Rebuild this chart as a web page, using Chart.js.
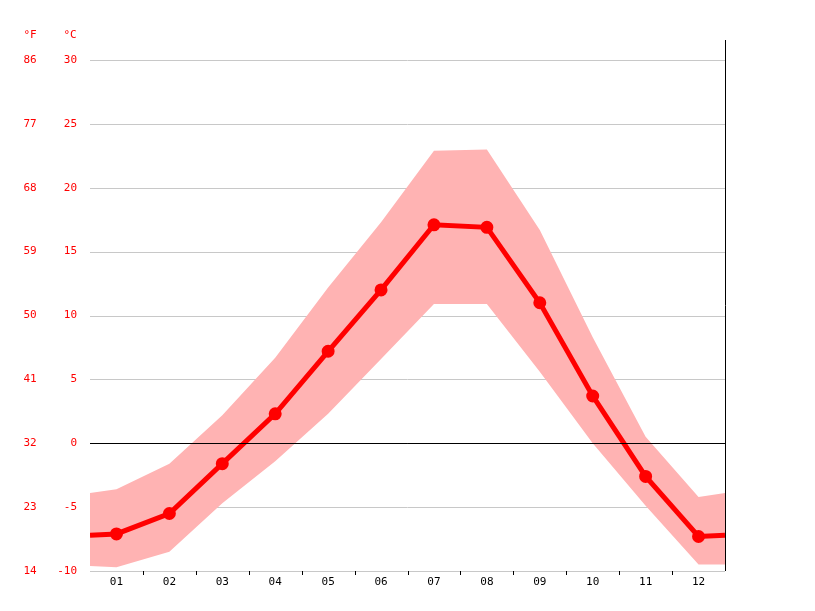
<!DOCTYPE html><html><head><script src="https://cdn.jsdelivr.net/npm/chart.js@4"></script>
<style>body{margin:0;background:#fff}canvas{display:block}</style></head><body>
<div style="width:815px;height:611px"><canvas id="c"></canvas></div>
<script>
const xPos=[0.5,1,2,3,4,5,6,7,8,9,10,11,12,12.5];
const monthLabels=['01','02','03','04','05','06','07','08','09','10','11','12'];
const meanTemp=[-7.2,-7.1,-5.5,-1.6,2.3,7.2,12.0,17.1,16.9,11.0,3.7,-2.6,-7.3,-7.2];
const maxTemp=[-3.9,-3.6,-1.6,2.2,6.7,12.2,17.3,22.9,23.0,16.7,8.3,0.5,-4.2,-3.9];
const minTemp=[-9.6,-9.7,-8.5,-4.7,-1.4,2.3,6.6,10.9,10.9,5.6,0,-4.9,-9.5,-9.5];
const cTicks=[-10,-5,0,5,10,15,20,25,30];
const fTicks=[14,23,32,41,50,59,68,77,86];
const pts=a=>a.map((v,i)=>({x:xPos[i],y:v}));
const deco={id:'deco',beforeDatasetsDraw(ch){const {ctx,chartArea:a,scales:{x,y}}=ch;ctx.save();
 ctx.lineWidth=1;cTicks.forEach(t=>{const py=Math.round(y.getPixelForValue(t))+0.5;ctx.strokeStyle=t===0?'#000':'#c8c8c8';ctx.beginPath();ctx.moveTo(a.left,py);ctx.lineTo(a.right,py);ctx.stroke();});ctx.restore();},
 afterDatasetsDraw(ch){const {ctx,chartArea:a,scales:{x,y}}=ch;ctx.save();
 const zy=Math.round(y.getPixelForValue(0))+0.5;ctx.strokeStyle='#000';ctx.lineWidth=1;ctx.beginPath();ctx.moveTo(a.left,zy);ctx.lineTo(a.right,zy);ctx.stroke();
 ctx.beginPath();ctx.moveTo(a.right+0.5,40);ctx.lineTo(a.right+0.5,a.bottom);ctx.stroke();
 ctx.font='11px "DejaVu Sans Mono"';ctx.fillStyle='#f00';ctx.textBaseline='middle';
 cTicks.forEach((t,i)=>{const py=y.getPixelForValue(t);ctx.textAlign='right';ctx.fillText(String(t),77,py);ctx.textAlign='center';ctx.fillText(String(fTicks[i]),30,py);});
 ctx.textAlign='center';ctx.fillText('°F',30,35);ctx.fillText('°C',70,35);
 ctx.fillStyle='#000';monthLabels.forEach((m,i)=>ctx.fillText(m,x.getPixelForValue(i+1),582));
 for(let k=1;k<12;k++){const px=Math.round(x.getPixelForValue(k+0.5))+0.5;ctx.beginPath();ctx.moveTo(px,a.bottom);ctx.lineTo(px,a.bottom+4);ctx.stroke();}
 ctx.restore();}};
new Chart(document.getElementById('c'),{type:'line',data:{datasets:[
 {data:pts(maxTemp),borderWidth:0,pointRadius:0,fill:'+1',backgroundColor:'#ffb3b3',order:2},
 {data:pts(minTemp),borderWidth:0,pointRadius:0,fill:false,order:2},
 {data:pts(meanTemp),borderColor:'#f00',backgroundColor:'#f00',borderWidth:5,pointRadius:xPos.map(v=>Number.isInteger(v)?4:0),fill:false,order:1}]},
 options:{animation:false,responsive:true,maintainAspectRatio:false,layout:{padding:{left:90,right:90,top:60,bottom:40}},
 plugins:{legend:{display:false},tooltip:{enabled:false}},
 scales:{x:{type:'linear',min:0.5,max:12.5,display:false},y:{min:-10,max:30,display:false}}},plugins:[deco]});
</script></body></html>
